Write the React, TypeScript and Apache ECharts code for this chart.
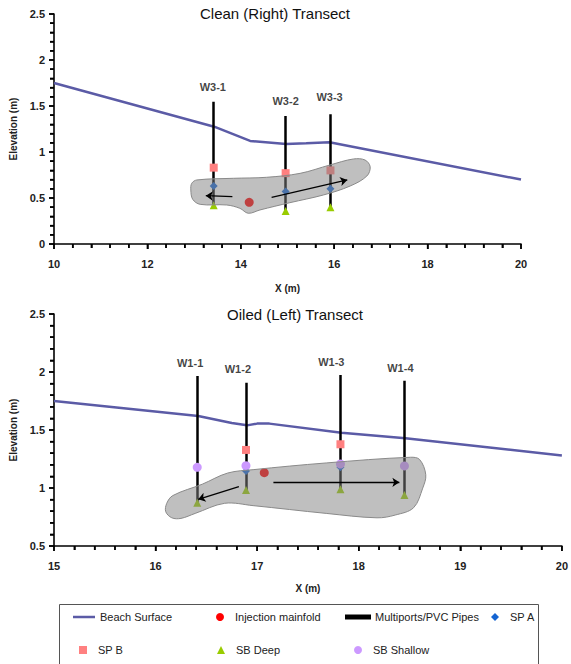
import React, { useEffect, useRef } from "react";
import * as echarts from "echarts";

// ---------- Clean (Right) Transect ----------
const beachTop: number[][] = [[10, 1.75], [13.43, 1.275], [14.2, 1.12], [14.97, 1.087], [15.4, 1.095], [15.9, 1.105], [20, 0.70]];
const pipeNamesTop = ["W3-1", "W3-2", "W3-3"];
const pipeXTop = [13.42, 14.96, 15.92];
const pipeBottomTop = [0.42, 0.37, 0.39];
const pipeTopTop = [1.547, 1.39, 1.41];
const labelXTop = [13.40, 14.96, 15.90];
const labelYTop = [1.71, 1.555, 1.60];
const injectionTop: number[][] = [[14.18, 0.453]];
const spATop = [0.63, 0.57, 0.60];
const spBTop = [0.83, 0.77, 0.80];
const sbDeepTop = [0.42, 0.36, 0.40];
const plumeTop: number[][] = [
  [12.95, 0.66], [13.06, 0.696], [13.84, 0.714], [14.55, 0.725], [15.27, 0.768], [15.91, 0.859],
  [16.41, 0.924], [16.66, 0.913], [16.77, 0.84], [16.70, 0.739], [16.34, 0.63], [15.77, 0.533],
  [15.05, 0.449], [14.41, 0.37], [14.16, 0.334], [13.98, 0.388], [13.70, 0.424], [13.13, 0.431],
  [12.97, 0.486], [12.93, 0.587],
];
const arrowsTop: number[][][] = [
  [[13.82, 0.514], [13.25, 0.525]],
  [[14.66, 0.507], [16.28, 0.696]],
];

// ---------- Oiled (Left) Transect ----------
const beachBottom: number[][] = [[15, 1.75], [16.42, 1.62], [16.75, 1.56], [16.9, 1.54], [17.0, 1.555], [17.12, 1.555], [17.83, 1.477], [18.46, 1.428], [20, 1.28]];
const pipeNamesBottom = ["W1-1", "W1-2", "W1-3", "W1-4"];
const pipeXBottom = [16.41, 16.89, 17.82, 18.45];
const pipeBottomBottom = [0.873, 0.983, 0.989, 0.94];
const pipeTopBottom = [1.966, 1.908, 1.974, 1.925];
const labelXBottom = [16.34, 16.81, 17.73, 18.41];
const labelYBottom = [2.077, 2.03, 2.09, 2.035];
const injectionBottom: number[][] = [[17.07, 1.132]];
const spABottomX = [16.89, 17.82];
const spABottom = [1.147, 1.178];
const spBBottomX = [16.89, 17.82];
const spBBottom = [1.328, 1.377];
const sbDeepBottom = [0.873, 0.983, 0.989, 0.94];
const sbShallowBottom = [1.178, 1.192, 1.207, 1.19];
const plumeBottom: number[][] = [
  [16.10, 0.796], [16.11, 0.868], [16.17, 0.935], [16.46, 1.033], [16.71, 1.129], [16.96, 1.158],
  [17.68, 1.216], [18.51, 1.265], [18.60, 1.245], [18.66, 1.114], [18.63, 0.999], [18.54, 0.83],
  [18.36, 0.767], [18.18, 0.743], [17.68, 0.781], [16.96, 0.848], [16.68, 0.868], [16.39, 0.781],
  [16.25, 0.738], [16.16, 0.743],
];
const arrowsBottom: number[][][] = [
  [[16.82, 1.011], [16.42, 0.902]],
  [[17.16, 1.049], [18.40, 1.049]],
];

const titles = ["Clean (Right) Transect", "Oiled (Left) Transect"];

// axis ranges: [min, max, interval]
const xRangeTop = [10, 20, 2];
const yRangeTop = [0, 2.5, 0.5];
const xRangeBottom = [15, 20, 1];
const yRangeBottom = [0.5, 2.5, 0.5];
const MINOR_SPLIT = 5;

const C = {
  beach: "#5b5ba6",
  pipe: "#000000",
  inj: "#ff0000",
  spA: "#1464d2",
  spB: "#ff8080",
  sbDeep: "#99cc00",
  sbShallow: "#cc99ff",
};

const FONT = "'Liberation Sans', Arial, sans-serif";

const zip = (xs: number[], ys: number[]) => xs.map((x, i) => [x, ys[i]]);

function tickValues(r: number[]) {
  const [min, max, step] = r;
  const out: { v: number; major: boolean }[] = [];
  const n = Math.round((max - min) / step) * MINOR_SPLIT;
  for (let i = 0; i <= n; i++) {
    out.push({ v: min + (i * step) / MINOR_SPLIT, major: i % MINOR_SPLIT === 0 });
  }
  return out;
}

function axisCommon() {
  return {
    axisLine: { show: true, onZero: false, lineStyle: { color: "#000", width: 1.6 } },
    axisTick: { show: true, length: 5, lineStyle: { color: "#000", width: 1.5 } },
    minorTick: { show: true, splitNumber: MINOR_SPLIT, length: 4, lineStyle: { color: "#000", width: 1.5 } },
    splitLine: { show: false },
    axisLabel: { fontFamily: FONT, fontWeight: "bold", fontSize: 11, color: "#222" },
    nameTextStyle: { fontFamily: FONT, fontWeight: "bold", fontSize: 10, color: "#222" },
  };
}

function tickSeries(idx: number, dir: "x" | "y", xr: number[], yr: number[]) {
  const ticks = tickValues(dir === "x" ? xr : yr);
  const data = ticks.map((t) => (dir === "x" ? [t.v, yr[0], t.major ? 1 : 0] : [xr[0], t.v, t.major ? 1 : 0]));
  return {
    type: "custom",
    name: "ticks" + dir + idx,
    xAxisIndex: idx,
    yAxisIndex: idx,
    clip: false,
    silent: true,
    z: 6,
    encode: { x: 0, y: 1 },
    data,
    renderItem: (params: any, api: any) => {
      const p = api.coord([api.value(0), api.value(1)]);
      const len = api.value(2) ? 5 : 4;
      const shape = dir === "x"
        ? { x1: p[0], y1: p[1], x2: p[0], y2: p[1] + len }
        : { x1: p[0] - len, y1: p[1], x2: p[0], y2: p[1] };
      return { type: "line", shape, style: { stroke: "#000", lineWidth: 1.5 } };
    },
  };
}

function blobSeries(data: number[][], idx: number) {
  return {
    type: "custom",
    name: "plume" + idx,
    xAxisIndex: idx,
    yAxisIndex: idx,
    z: 4,
    silent: true,
    encode: { x: 0, y: 1 },
    data,
    renderItem: (params: any, api: any) => {
      if (params.dataIndex !== 0) return null;
      const pts = data.map((p) => api.coord(p));
      return {
        type: "polygon",
        shape: { points: pts, smooth: 0.35 },
        style: { fill: "rgba(128,128,128,0.5)", stroke: "#8a8a8a", lineWidth: 1 },
      };
    },
  };
}

function chartSeries(idx: number) {
  const top = idx === 0;
  const beach = top ? beachTop : beachBottom;
  const px = top ? pipeXTop : pipeXBottom;
  const pb = top ? pipeBottomTop : pipeBottomBottom;
  const pt = top ? pipeTopTop : pipeTopBottom;
  const names = top ? pipeNamesTop : pipeNamesBottom;
  const lx = top ? labelXTop : labelXBottom;
  const ly = top ? labelYTop : labelYBottom;
  const arrows = top ? arrowsTop : arrowsBottom;
  const xr = top ? xRangeTop : xRangeBottom;
  const yr = top ? yRangeTop : yRangeBottom;
  const ax = { xAxisIndex: idx, yAxisIndex: idx };
  const list: any[] = [
    {
      type: "line", name: "Beach Surface", ...ax, data: beach, symbol: "none", z: 2,
      lineStyle: { color: C.beach, width: 2.5 }, itemStyle: { color: C.beach },
    },
    {
      type: "lines", name: "Multiports/PVC Pipes", coordinateSystem: "cartesian2d", ...ax, z: 3,
      data: px.map((x, i) => ({ coords: [[x, pb[i]], [x, pt[i]]] })),
      lineStyle: { color: C.pipe, width: 2.5, opacity: 1 }, itemStyle: { color: C.pipe },
    },
    {
      type: "scatter", name: "Injection mainfold", ...ax, z: 3, symbol: "circle", symbolSize: 9,
      data: top ? injectionTop : injectionBottom, itemStyle: { color: C.inj, opacity: 1 },
    },
    {
      type: "scatter", name: "SP B", ...ax, z: 3, symbol: "rect", symbolSize: 8,
      data: top ? zip(px, spBTop) : zip(spBBottomX, spBBottom), itemStyle: { color: C.spB, opacity: 1 },
    },
    {
      type: "scatter", name: "SP A", ...ax, z: 3, symbol: "diamond", symbolSize: 8,
      data: top ? zip(px, spATop) : zip(spABottomX, spABottom), itemStyle: { color: C.spA, opacity: 1 },
    },
    {
      type: "scatter", name: "SB Deep", ...ax, z: 3, symbol: "triangle", symbolSize: 8,
      data: zip(px, top ? sbDeepTop : sbDeepBottom), itemStyle: { color: C.sbDeep, opacity: 1 },
    },
  ];
  if (!top) {
    list.push({
      type: "scatter", name: "SB Shallow", ...ax, z: 3, symbol: "circle", symbolSize: 9,
      data: zip(px, sbShallowBottom), itemStyle: { color: C.sbShallow, opacity: 1 },
    });
  }
  list.push(blobSeries(top ? plumeTop : plumeBottom, idx));
  list.push({
    type: "lines", name: "flow" + idx, coordinateSystem: "cartesian2d", ...ax, z: 5, silent: true,
    symbol: ["none", "arrow"], symbolSize: 7,
    data: arrows.map((a) => ({ coords: a })),
    lineStyle: { color: "#000", width: 1.3, opacity: 1 },
  });
  list.push({
    type: "scatter", name: "pipeLabels" + idx, ...ax, z: 5, silent: true, symbolSize: 1,
    itemStyle: { color: "transparent" },
    data: names.map((n, i) => ({ name: n, value: [lx[i], ly[i]] })),
    label: {
      show: true, position: "inside", formatter: "{b}",
      fontFamily: FONT, fontWeight: "bold", fontSize: 11, color: "#111",
    },
  });
  list.push(tickSeries(idx, "x", xr, yr));
  list.push(tickSeries(idx, "y", xr, yr));
  return list;
}

function legendLine(name: string, left: number, cy: number, w: number, h: number, color: string) {
  return {
    show: true, selectedMode: false, orient: "horizontal", left, top: cy - 6.5, padding: 0,
    itemWidth: w, itemHeight: h,
    data: [{ name, icon: "rect", itemStyle: { color } }],
    textStyle: { fontFamily: FONT, fontSize: 11, color: "#222" },
  };
}

function legendMarker(name: string, cx: number, cy: number, icon: string, color: string) {
  return {
    show: true, selectedMode: false, orient: "horizontal", left: cx - 4, top: cy - 6.5, padding: 0,
    itemWidth: 8, itemHeight: 8,
    data: [{ name, icon, itemStyle: { color } }],
    textStyle: { fontFamily: FONT, fontSize: 11, color: "#222", padding: [0, 0, 0, 6] },
  };
}

export default function App() {
  const ref = useRef<HTMLDivElement>(null);
  useEffect(() => {
    if (!ref.current) return;
    const chart = echarts.init(ref.current, undefined, { renderer: "svg" });
    const option: any = {
      animation: false,
      title: [
        { text: titles[0], left: 275, top: 6, textAlign: "center", padding: 0,
          textStyle: { fontFamily: FONT, fontSize: 15, fontWeight: "normal", color: "#111" } },
        { text: titles[1], left: 295, top: 307, textAlign: "center", padding: 0,
          textStyle: { fontFamily: FONT, fontSize: 15, fontWeight: "normal", color: "#111" } },
      ],
      grid: [
        { left: 54, top: 14, width: 467, height: 230 },
        { left: 52, top: 314, width: 511, height: 232 },
      ],
      xAxis: [
        { type: "value", gridIndex: 0, min: xRangeTop[0], max: xRangeTop[1], interval: xRangeTop[2],
          name: "X (m)", nameLocation: "middle", nameGap: 39,
          ...axisCommon(), axisLabel: { ...axisCommon().axisLabel, margin: 14 } },
        { type: "value", gridIndex: 1, min: xRangeBottom[0], max: xRangeBottom[1], interval: xRangeBottom[2],
          name: "X (m)", nameLocation: "middle", nameGap: 37,
          ...axisCommon(), axisLabel: { ...axisCommon().axisLabel, margin: 14 } },
      ],
      yAxis: [
        { type: "value", gridIndex: 0, min: yRangeTop[0], max: yRangeTop[1], interval: yRangeTop[2],
          name: "Elevation (m)", nameLocation: "middle", nameGap: 35,
          ...axisCommon(), axisLabel: { ...axisCommon().axisLabel, margin: 9 } },
        { type: "value", gridIndex: 1, min: yRangeBottom[0], max: yRangeBottom[1], interval: yRangeBottom[2],
          name: "Elevation (m)", nameLocation: "middle", nameGap: 36,
          ...axisCommon(), axisLabel: { ...axisCommon().axisLabel, margin: 9 } },
      ],
      legend: [
        legendLine("Beach Surface", 73, 618, 22, 2.5, C.beach),
        legendMarker("Injection mainfold", 220, 618, "circle", C.inj),
        legendLine("Multiports/PVC Pipes", 345, 618, 24, 3, C.pipe),
        legendMarker("SP A", 495, 618, "diamond", C.spA),
        legendMarker("SP B", 83, 651, "rect", C.spB),
        legendMarker("SB Deep", 221, 651, "triangle", C.sbDeep),
        legendMarker("SB Shallow", 358, 651, "circle", C.sbShallow),
      ],
      graphic: [
        { type: "rect", left: 57, top: 602, shape: { x: 0, y: 0, width: 479, height: 90 },
          style: { fill: "none", stroke: "#555", lineWidth: 1 }, silent: true },
      ],
      series: [...chartSeries(0), ...chartSeries(1)],
    };
    chart.setOption(option);
    return () => chart.dispose();
  }, []);
  return (
    <div
      ref={ref}
      style={{ position: "absolute", left: 0, top: 0, width: 571, height: 664 }}
    />
  );
}
